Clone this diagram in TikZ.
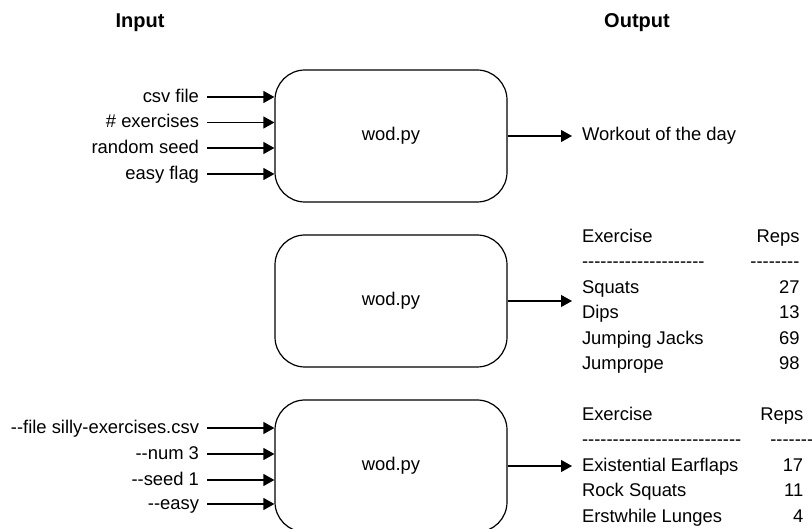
\documentclass[tikz,border=0pt]{standalone}
\usepackage{fontspec}
\setmainfont{Liberation Sans}[Ligatures=TeXOff]
\usetikzlibrary{arrows.meta, positioning}

\begin{document}
\begin{tikzpicture}[x=1pt, y=-1pt,
  font=\fontsize{18.4}{25.5}\selectfont,
  prog/.style={draw, line width=1.2pt, rounded corners=30pt, minimum width=232pt, minimum height=132pt},
  arg/.style={anchor=east, inner sep=4pt, outer sep=4pt, text height=13pt, text depth=2pt},
  res/.style={anchor=west, inner sep=4pt, outer sep=6pt},
  head/.style={font=\fontsize{20}{24}\selectfont\bfseries},
  feed/.style={-{Triangle[length=11pt, width=12pt]}, line width=1.2pt}]
  \useasboundingbox (0,0) rectangle (812,529);
  \node[head] (inhead) at (140,23) {Input};
  \node[head] (outhead) at (637,23) {Output};

  % plain arguments
  \node[prog] (wodA) at (391,136) {wod.py};
  \node[arg] (csv) at (207,97) {csv file};
  \node[arg] (count) at (207,122.5) {\# exercises};
  \node[arg] (seed) at (207,148) {random seed};
  \node[arg] (easy) at (207,174) {easy flag};
  \foreach \a in {csv,count,seed,easy}
    \draw[feed] (\a) -- (\a -| wodA.west);
  \node[res] (wodout) at (572,136) {Workout of the day};
  \draw[feed] (wodA.east) -- (wodout.west);

  % defaults
  \node[prog] (wodB) at (391,301) {wod.py};
  \node[res] (tabB) at (572,301) {\begin{tabular}{@{}l@{\hspace{52pt}}r@{}}
    Exercise & Reps\\
    -------------------- & \llap{--------}\\
    Squats & 27\\
    Dips & 13\\
    Jumping Jacks & 69\\
    Jumprope & 98
  \end{tabular}};
  \draw[feed] (wodB.east) -- (tabB.west);

  % command line options
  \node[prog] (wodC) at (391,466) {wod.py};
  \node[arg] (fileopt) at (207,428) {--file silly-exercises.csv};
  \node[arg] (numopt) at (207,454) {--num 3};
  \node[arg] (seedopt) at (207,480) {--seed 1};
  \node[arg] (easyopt) at (207,504) {--easy};
  \foreach \a in {fileopt,numopt,seedopt,easyopt}
    \draw[feed] (\a) -- (\a -| wodC.west);
  \node[res] (tabC) at (572,466) {\begin{tabular}{@{}l@{\hspace{19pt}}r@{}}
    Exercise & Reps\\
    -------------------------- & \rlap{\hspace{-33pt}--------}\\
    Existential Earflaps & 17\\
    Rock Squats & 11\\
    Erstwhile Lunges & 4
  \end{tabular}};
  \draw[feed] (wodC.east) -- (tabC.west);
\end{tikzpicture}
\end{document}
